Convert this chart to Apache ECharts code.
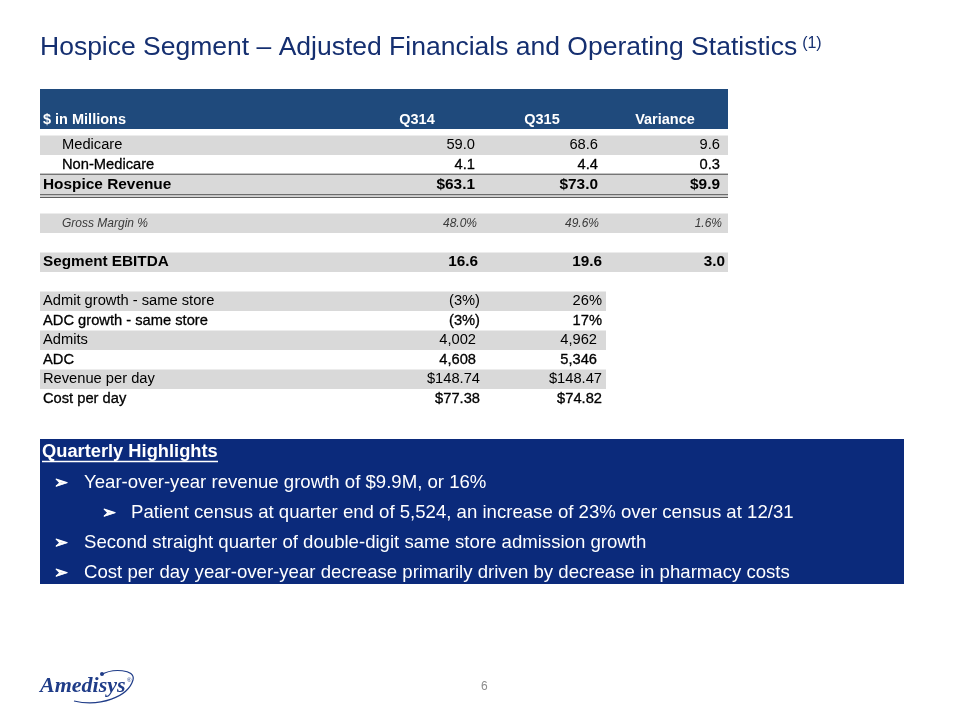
<!DOCTYPE html>
<html>
<head>
<meta charset="utf-8">
<script src="https://cdn.jsdelivr.net/npm/echarts@6/dist/echarts.min.js"></script>
<style>
  html, body { margin: 0; padding: 0; background: #ffffff; }
  #chart { width: 960px; height: 720px; }
</style>
</head>
<body>
<div id="chart"></div>
<script>
// ---------------- DATA ----------------
const titleText = 'Hospice Segment – Adjusted Financials and Operating Statistics';
const titleNote = '(1)';
const columnHeaders = ['$ in Millions', 'Q314', 'Q315', 'Variance'];
const rowLabels = [
  'Medicare', 'Non-Medicare', 'Hospice Revenue', '', 'Gross Margin %', '',
  'Segment EBITDA', '', 'Admit growth - same store', 'ADC growth - same store',
  'Admits', 'ADC', 'Revenue per day', 'Cost per day'
];
const q314 = [59.0, 4.1, 63.1, null, 48.0, null, 16.6, null, -3, -3, 4002, 4608, 148.74, 77.38];
const q315 = [68.6, 4.4, 73.0, null, 49.6, null, 19.6, null, 26, 17, 4962, 5346, 148.47, 74.82];
const variance = [9.6, 0.3, 9.9, null, 1.6, null, 3.0, null, null, null, null, null, null, null];
const highlightsTitle = 'Quarterly Highlights';
const highlightTexts = [
  'Year-over-year revenue growth of $9.9M, or 16%',
  'Patient census at quarter end of 5,524, an increase of 23% over census at 12/31',
  'Second straight quarter of double-digit same store admission growth',
  'Cost per day year-over-year decrease primarily driven by decrease in pharmacy costs'
];
const highlightLevels = [0, 1, 0, 0];
const pageNumber = '6';
const logoText = 'Amedisys';

// ---------------- FORMATS & STYLES ----------------
const FONT = "'Liberation Sans', Arial, Helvetica, 'DejaVu Sans', sans-serif";
const GRAY = '#d9d9d9';
const HEADER_BLUE = '#1f4a7c';
const NAVY = '#0b2a7b';
const TITLE_COLOR = '#152f70';
const LOGO_COLOR = '#1f3c88';

const fmt = {
  d1: v => v.toFixed(1),
  usd1: v => '$' + v.toFixed(1),
  pct1: v => v.toFixed(1) + '%',
  pctp: v => v < 0 ? '(' + (-v) + '%)' : v + '%',
  int: v => v.toLocaleString('en-US'),
  usd2: v => '$' + v.toFixed(2)
};

// layout in axis units (table spans 0..688)
const STD = [435, 558, 680];
const rowStyle = [
  { shade: true,  indent: true, weight: 'normal', size: 14.7, f: 'd1', anchors: STD },
  { shade: false, indent: true, weight: 'normal', size: 14.7, dark: true, f: 'd1', anchors: STD, line: 'single' },
  { shade: true,  weight: 'bold', size: 15.4, f: 'usd1', anchors: STD, line: 'double' },
  { spacer: true },
  { shade: true,  indent: true, italic: true, size: 12, color: '#3a3a3a', f: 'pct1', anchors: [437, 559, 682] },
  { spacer: true },
  { shade: true,  weight: 'bold', size: 15.3, f: 'd1', anchors: [438, 562, 685] },
  { spacer: true },
  { shade: true,  short: true, weight: 'normal', size: 14.7, f: 'pctp', anchors: [440, 562] },
  { shade: false, short: true, weight: 'normal', size: 14.7, dark: true, f: 'pctp', anchors: [440, 562] },
  { shade: true,  short: true, weight: 'normal', size: 14.7, f: 'int', anchors: [436, 557] },
  { shade: false, short: true, weight: 'normal', size: 14.7, dark: true, f: 'int', anchors: [436, 557] },
  { shade: true,  short: true, weight: 'normal', size: 14.7, f: 'usd2', anchors: [440, 562] },
  { shade: false, short: true, weight: 'normal', size: 14.7, dark: true, f: 'usd2', anchors: [440, 562] }
];
const TABLE_W = 688;
const SHORT_W = 566;

function fontStr(s) {
  return (s.italic ? 'italic ' : '') + (s.weight || 'normal') + ' ' + s.size + 'px ' + FONT;
}

function textStyle(s, text, x, y, align) {
  const st = { text: text, x: x, y: y, font: fontStr(s), fill: s.color || '#000000', align: align, verticalAlign: 'middle' };
  if (s.dark) { st.stroke = '#000000'; st.lineWidth = 0.3; }
  return st;
}

function renderBody(params, api) {
  const i = api.value(1);
  const s = rowStyle[i];
  if (!s || s.spacer) return { type: 'group', children: [] };
  const c0 = api.coord([0, i]);
  const bandH = api.size([0, 1])[1];
  const top = c0[1] - bandH / 2;
  const yc = c0[1];
  const px = v => api.coord([v, i])[0];
  const right = px(s.short ? SHORT_W : TABLE_W);
  const children = [];
  if (s.shade) {
    children.push({ type: 'rect', shape: { x: c0[0], y: top, width: right - c0[0], height: bandH }, style: { fill: GRAY } });
  }
  children.push({ type: 'text', style: textStyle(s, rowLabels[i], px(s.indent ? 22 : 3), yc, 'left') });
  const vals = [q314[i], q315[i], variance[i]];
  vals.forEach((v, k) => {
    if (v === null || v === undefined || s.anchors[k] === undefined) return;
    children.push({ type: 'text', style: textStyle(s, fmt[s.f](v), px(s.anchors[k]), yc, 'right') });
  });
  const bottom = top + bandH;
  if (s.line === 'single') {
    children.push({ type: 'line', shape: { x1: px(0), y1: bottom, x2: px(TABLE_W), y2: bottom }, style: { stroke: '#111111', lineWidth: 1.5 } });
  } else if (s.line === 'double') {
    children.push({ type: 'line', shape: { x1: px(0), y1: bottom + 0.8, x2: px(TABLE_W), y2: bottom + 0.8 }, style: { stroke: '#333333', lineWidth: 1 } });
    children.push({ type: 'line', shape: { x1: px(0), y1: bottom + 3.3, x2: px(TABLE_W), y2: bottom + 3.3 }, style: { stroke: '#333333', lineWidth: 1 } });
  }
  return { type: 'group', children: children };
}

const HEADER_POS = [{ x: 3, align: 'left' }, { x: 377, align: 'center' }, { x: 502, align: 'center' }, { x: 625, align: 'center' }];

function renderHeader(params, api) {
  const c0 = api.coord([0, 0]);
  const bandH = api.size([0, 1])[1];
  const top = c0[1] - bandH / 2;
  const px = v => api.coord([v, 0])[0];
  const children = [{ type: 'rect', shape: { x: px(0), y: top, width: px(TABLE_W) - px(0), height: bandH }, style: { fill: HEADER_BLUE } }];
  columnHeaders.forEach((h, k) => {
    children.push({ type: 'text', style: { text: h, x: px(HEADER_POS[k].x), y: top + bandH - 9.5, font: 'bold 14.5px ' + FONT, fill: '#ffffff', align: HEADER_POS[k].align, verticalAlign: 'middle' } });
  });
  return { type: 'group', children: children };
}

// highlights graphic
const graphics = [];
graphics.push({ type: 'rect', shape: { x: 40, y: 439, width: 864, height: 145 }, style: { fill: NAVY }, z: 1 });
graphics.push({ type: 'text', x: 42, y: 452, style: { text: highlightsTitle, font: 'bold 18.3px ' + FONT, fill: '#ffffff', verticalAlign: 'middle' }, z: 2 });
graphics.push({ type: 'line', shape: { x1: 42, y1: 461.5, x2: 218, y2: 461.5 }, style: { stroke: '#ffffff', lineWidth: 1.3 }, z: 2 });
highlightTexts.forEach((t, k) => {
  const y = 483 + k * 30;
  const lvl = highlightLevels[k];
  graphics.push({ type: 'text', x: lvl ? 102 : 54, y: y, style: { text: '\u27A2', font: '17px ' + FONT, fill: '#ffffff', stroke: '#ffffff', lineWidth: 0.8, verticalAlign: 'middle' }, z: 2 });
  graphics.push({ type: 'text', x: lvl ? 131 : 84, y: y, style: { text: t, font: '18.6px ' + FONT, fill: '#ffffff', verticalAlign: 'middle' }, z: 2 });
});
// footer
graphics.push({ type: 'text', x: 481, y: 687, style: { text: pageNumber, font: '12px ' + FONT, fill: '#8c8c8c', verticalAlign: 'middle' } });
graphics.push({ type: 'bezierCurve', shape: { x1: 74, y1: 701, cpx1: 100, cpy1: 707, cpx2: 128, cpy2: 697, x2: 133, y2: 680 }, style: { stroke: LOGO_COLOR, lineWidth: 1.2, fill: null } });
graphics.push({ type: 'bezierCurve', shape: { x1: 133, y1: 680, cpx1: 136, cpy1: 669, cpx2: 112, cpy2: 668, x2: 101, y2: 675 }, style: { stroke: LOGO_COLOR, lineWidth: 1.2, fill: null } });
graphics.push({ type: 'circle', shape: { cx: 102, cy: 674, r: 2 }, style: { fill: LOGO_COLOR } });
graphics.push({ type: 'text', x: 40, y: 686, style: { text: logoText, font: 'italic bold 22px "Liberation Serif", "DejaVu Serif", serif', fill: LOGO_COLOR, verticalAlign: 'middle' } });
graphics.push({ type: 'text', x: 127, y: 680, style: { text: '\u00AE', font: '6px ' + FONT, fill: LOGO_COLOR, verticalAlign: 'middle' } });

const option = {
  animation: false,
  backgroundColor: '#ffffff',
  title: {
    text: '{t|' + titleText + '} {s|' + titleNote + '}',
    left: 40,
    top: 33,
    padding: 0,
    textStyle: {
      fontWeight: 'normal',
      rich: {
        t: { fontSize: 26.5, fontFamily: FONT, fontWeight: 'normal', color: TITLE_COLOR, lineHeight: 30 },
        s: { fontSize: 16, fontFamily: FONT, fontWeight: 'normal', color: TITLE_COLOR, lineHeight: 30, verticalAlign: 'top', padding: [3, 0, 0, 0] }
      }
    }
  },
  grid: [
    { left: 40, top: 89, width: TABLE_W, height: 40 },
    { left: 40, top: 135.5, width: TABLE_W, height: 273 }
  ],
  xAxis: [
    { type: 'value', gridIndex: 0, min: 0, max: TABLE_W, show: false },
    { type: 'value', gridIndex: 1, min: 0, max: TABLE_W, show: false }
  ],
  yAxis: [
    { type: 'category', gridIndex: 0, data: ['header'], show: false },
    { type: 'category', gridIndex: 1, data: rowLabels.map((r, i) => r || ('spacer' + i)), inverse: true, show: false }
  ],
  series: [
    { type: 'custom', xAxisIndex: 0, yAxisIndex: 0, data: [[0, 0]], encode: { x: 0, y: 1 }, renderItem: renderHeader, silent: true },
    { type: 'custom', xAxisIndex: 1, yAxisIndex: 1, data: rowLabels.map((_, i) => [0, i]), encode: { x: 0, y: 1 }, renderItem: renderBody, silent: true }
  ],
  graphic: graphics
};

const chart = echarts.init(document.getElementById('chart'), null, { renderer: 'canvas' });
chart.setOption(option);
</script>
</body>
</html>
